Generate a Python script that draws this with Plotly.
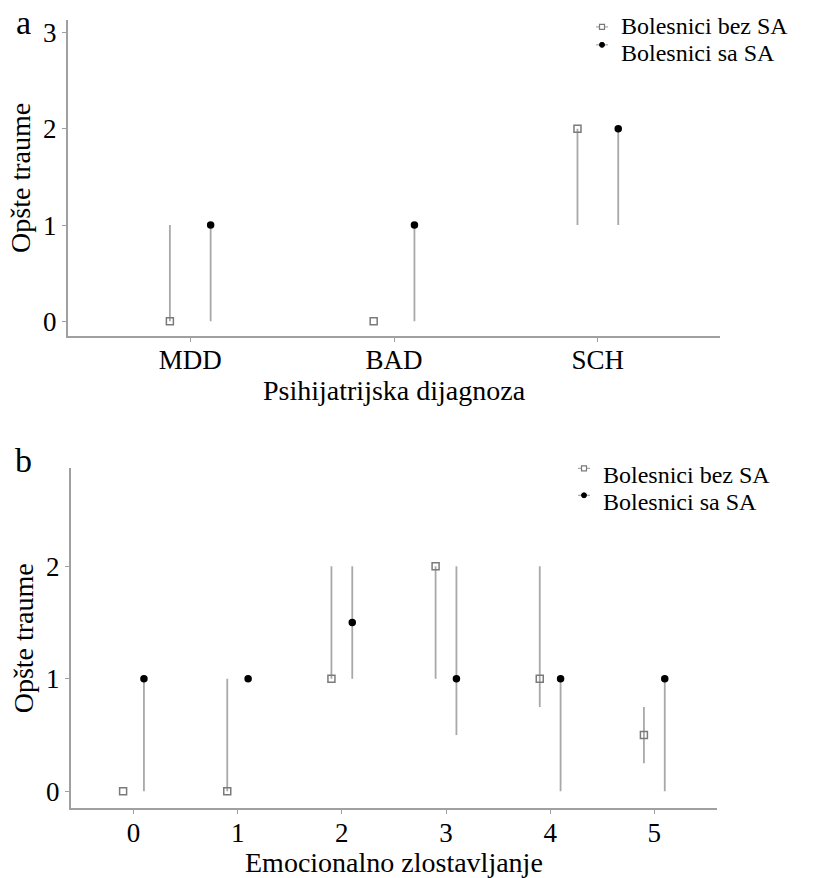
import plotly.graph_objects as go

# Panel a data
diagnoses = ["MDD", "BAD", "SCH"]
a_bez_val = [0, 0, 2]
a_bez_low = [0, 0, 1]
a_bez_high = [1, 0, 2]
a_sa_val = [1, 1, 2]
a_sa_low = [0, 0, 1]
a_sa_high = [1, 1, 2]

# Panel b data
abuse_levels = [0, 1, 2, 3, 4, 5]
b_bez_val = [0, 0, 1, 2, 1, 0.5]
b_bez_low = [0, 0, 1, 1, 0.75, 0.25]
b_bez_high = [0, 1, 2, 2, 2, 0.75]
b_sa_val = [1, 1, 1.5, 1, 1, 1]
b_sa_low = [0, 1, 1, 0.5, 0, 0]
b_sa_high = [1, 1, 2, 2, 1, 1]

series_names = ["Bolesnici bez SA", "Bolesnici sa SA"]
DODGE = 0.1
FONT = "Liberation Serif, Times New Roman, serif"
ERR_COLOR = "#a8a8a8"
AX_COLOR = "#a0a0a0"
BEZ_COLOR = "#7a7a7a"
SA_COLOR = "#000000"
W, H = 823, 878

fig = go.Figure()

def add_series(xs, vals, lows, highs, name, symbol, color, size, xaxis, yaxis):
    fig.add_trace(go.Scatter(
        x=xs, y=vals, mode="markers", name=name, showlegend=False,
        marker=dict(symbol=symbol, color=color, size=size,
                    line=dict(color=color, width=1.5)),
        error_y=dict(type="data", symmetric=False,
                     array=[h - v for h, v in zip(highs, vals)],
                     arrayminus=[v - l for v, l in zip(vals, lows)],
                     color=ERR_COLOR, thickness=1.8, width=0),
        xaxis=xaxis, yaxis=yaxis,
    ))

xa = list(range(len(diagnoses)))
add_series([i - DODGE for i in xa], a_bez_val, a_bez_low, a_bez_high,
           series_names[0], "square-open", BEZ_COLOR, 7, "x", "y")
add_series([i + DODGE for i in xa], a_sa_val, a_sa_low, a_sa_high,
           series_names[1], "circle", SA_COLOR, 6, "x", "y")

add_series([i - DODGE for i in abuse_levels], b_bez_val, b_bez_low, b_bez_high,
           series_names[0], "square-open", BEZ_COLOR, 7, "x2", "y2")
add_series([i + DODGE for i in abuse_levels], b_sa_val, b_sa_low, b_sa_high,
           series_names[1], "circle", SA_COLOR, 6, "x2", "y2")

axis_common = dict(showline=True, linecolor=AX_COLOR, linewidth=2, showgrid=False,
                   zeroline=False, ticks="outside", ticklen=4, tickcolor=AX_COLOR,
                   tickfont=dict(size=27, color="black", family=FONT))

def px(x):
    return x / W

def py(y):
    return 1 - y / H

annotations = [
    dict(text="a", x=px(23), y=py(21), xref="paper", yref="paper",
         showarrow=False, font=dict(size=34, family=FONT), xanchor="center", yanchor="middle"),
    dict(text="b", x=px(23), y=py(460), xref="paper", yref="paper",
         showarrow=False, font=dict(size=34, family=FONT), xanchor="center", yanchor="middle"),
]
shapes = []

def add_legend(sym_x, text_x, rows):
    for (name, kind, sy, ty) in rows:
        annotations.append(dict(text=name, x=px(text_x), y=py(ty), xref="paper", yref="paper",
                                showarrow=False, xanchor="left", yanchor="middle",
                                font=dict(size=24, family=FONT, color="black")))
        color = BEZ_COLOR if kind == "bez" else SA_COLOR
        shapes.append(dict(type="line", xref="paper", yref="paper",
                           x0=px(sym_x - 6), x1=px(sym_x + 6), y0=py(sy), y1=py(sy),
                           line=dict(color=ERR_COLOR, width=1.2)))
        if kind == "bez":
            shapes.append(dict(type="rect", xref="paper", yref="paper",
                               x0=px(sym_x - 2.5), x1=px(sym_x + 2.5),
                               y0=py(sy - 2.5), y1=py(sy + 2.5),
                               fillcolor="white", line=dict(color=color, width=1.2)))
        else:
            shapes.append(dict(type="circle", xref="paper", yref="paper",
                               x0=px(sym_x - 2.5), x1=px(sym_x + 2.5),
                               y0=py(sy - 2.5), y1=py(sy + 2.5),
                               fillcolor=color, line=dict(color=color, width=1)))

add_legend(602, 619, [(series_names[0], "bez", 25, 24), (series_names[1], "sa", 43, 51)])
add_legend(584, 601, [(series_names[0], "bez", 468, 475), (series_names[1], "sa", 495, 502)])

fig.update_layout(
    width=W, height=H,
    margin=dict(l=0, r=0, t=0, b=0),
    paper_bgcolor="white", plot_bgcolor="white",
    font=dict(family=FONT, color="black"),
    xaxis=dict(domain=[0.0826, 0.875], range=[-0.6, 2.6],
               tickvals=xa, ticktext=diagnoses, anchor="y", ticklabelstandoff=-5,
               title=dict(text="Psihijatrijska dijagnoza", font=dict(size=28), standoff=0),
               **axis_common),
    yaxis=dict(domain=[0.6185, 0.9795], range=[-0.15, 3.13],
               tickvals=[0, 1, 2, 3], anchor="x",
               title=dict(text="Opšte traume", font=dict(size=28), standoff=4),
               **axis_common),
    xaxis2=dict(domain=[0.0863, 0.871], range=[-0.6, 5.6],
                tickvals=abuse_levels, anchor="y2", ticklabelstandoff=-5,
                title=dict(text="Emocionalno zlostavljanje", font=dict(size=28), standoff=0),
                **axis_common),
    yaxis2=dict(domain=[0.0786, 0.467], range=[-0.15, 2.87],
                tickvals=[0, 1, 2], anchor="x2",
                title=dict(text="Opšte traume", font=dict(size=28), standoff=4),
                **axis_common),
    annotations=annotations,
    shapes=shapes,
)

fig.write_html("out.html")
